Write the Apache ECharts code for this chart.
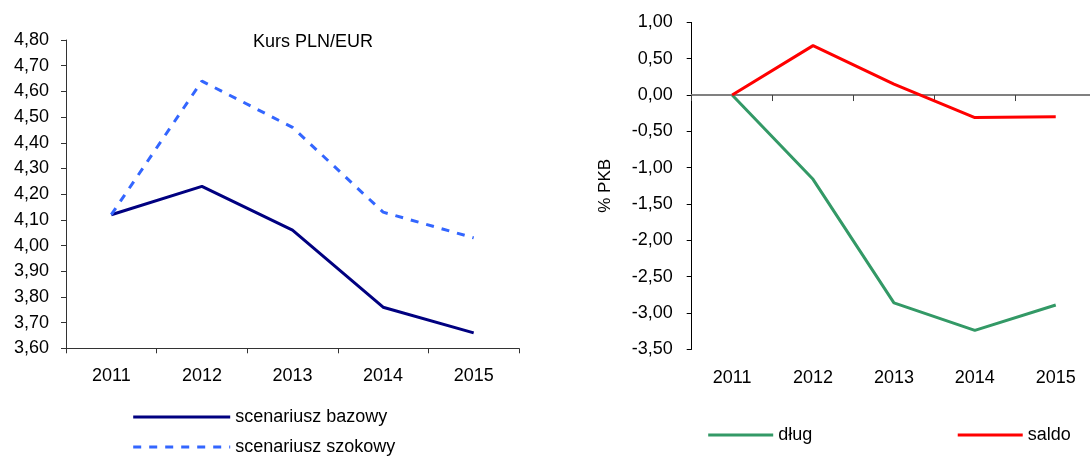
<!DOCTYPE html>
<html>
<head>
<meta charset="utf-8">
<script src="https://cdn.jsdelivr.net/npm/echarts@6/dist/echarts.min.js"></script>
<style>
html,body{margin:0;padding:0;background:#fff;}
#chart{width:1090px;height:456px;}
</style>
</head>
<body>
<div id="chart"></div>
<script>
// ---- data ----
const years = ['2011', '2012', '2013', '2014', '2015'];
const kursBazowy = [4.12, 4.23, 4.06, 3.76, 3.66];
const kursSzokowy = [4.12, 4.64, 4.46, 4.13, 4.03];
const dlug = [0, -1.16, -2.86, -3.24, -2.89];
const saldo = [0, 0.68, 0.15, -0.31, -0.30];
const leftTitle = 'Kurs PLN/EUR';
const rightAxisName = '% PKB';
const seriesNames = ['scenariusz bazowy', 'scenariusz szokowy', 'dług', 'saldo'];

const FONT = '"Liberation Sans", Arial, sans-serif';
const fmt = v => v.toFixed(2).replace('.', ',');

const chart = echarts.init(document.getElementById('chart'), null, {renderer: 'canvas'});

chart.setOption({
  animation: false,
  textStyle: {fontFamily: FONT, color: '#000'},
  title: {
    text: leftTitle,
    left: 253, top: 33,
    padding: 0,
    textStyle: {fontFamily: FONT, fontSize: 18, fontWeight: 'normal', color: '#000'}
  },
  grid: [
    {left: 66, top: 40, width: 453, height: 308.3, outerBoundsMode: 'none', containLabel: false},
    {left: 691.7, top: 22.4, width: 404.5, height: 326.9, outerBoundsMode: 'none', containLabel: false}
  ],
  xAxis: [
    {
      gridIndex: 0, type: 'category', data: years, boundaryGap: true,
      axisLine: {onZero: false, lineStyle: {color: '#333', width: 1}},
      axisTick: {show: true, length: 5, lineStyle: {color: '#333'}},
      axisLabel: {fontFamily: FONT, fontSize: 18, color: '#000', margin: 19},
      splitLine: {show: false}
    },
    {
      gridIndex: 1, type: 'category', data: years, boundaryGap: true, position: 'bottom',
      axisLine: {onZero: true, lineStyle: {color: '#808080', width: 2}},
      axisTick: {show: true, length: 6, lineStyle: {color: '#404040', width: 1}},
      axisLabel: {show: false},
      splitLine: {show: false}
    },
    {
      gridIndex: 1, type: 'category', data: years, boundaryGap: true, position: 'bottom',
      axisLine: {show: false, onZero: false},
      axisTick: {show: false},
      axisLabel: {fontFamily: FONT, fontSize: 18, color: '#000', margin: 20},
      splitLine: {show: false}
    }
  ],
  yAxis: [
    {
      gridIndex: 0, type: 'value', min: 3.6, max: 4.8, interval: 0.1,
      axisLine: {show: true, lineStyle: {color: '#333', width: 1}},
      axisTick: {show: true, length: 5, lineStyle: {color: '#333'}},
      axisLabel: {fontFamily: FONT, fontSize: 18, color: '#000', margin: 17, formatter: fmt},
      splitLine: {show: false}
    },
    {
      gridIndex: 1, type: 'value', min: -3.5, max: 1, interval: 0.5,
      name: rightAxisName, nameLocation: 'middle', nameGap: 78, nameRotate: 90,
      nameTextStyle: {fontFamily: FONT, fontSize: 17, color: '#000'},
      axisLine: {show: true, lineStyle: {color: '#000', width: 1}},
      axisTick: {show: true, length: 5, lineStyle: {color: '#000'}},
      axisLabel: {fontFamily: FONT, fontSize: 18, color: '#000', margin: 19, formatter: fmt},
      splitLine: {show: false}
    }
  ],
  legend: [
    {
      data: [seriesNames[0], seriesNames[1]],
      orient: 'vertical', left: 131.7, top: 408, padding: 0,
      itemWidth: 97, itemHeight: 14, itemGap: 12,
      textStyle: {fontFamily: FONT, fontSize: 18, color: '#000'},
      lineStyle: {width: 3},
      itemStyle: {opacity: 0}
    },
    {
      data: [seriesNames[2], seriesNames[3]],
      orient: 'horizontal', left: 706.7, top: 426, padding: 0,
      itemWidth: 65, itemHeight: 14, itemGap: 144,
      textStyle: {fontFamily: FONT, fontSize: 18, color: '#000'},
      lineStyle: {width: 3},
      itemStyle: {opacity: 0}
    }
  ],
  series: [
    {
      name: seriesNames[0], type: 'line', xAxisIndex: 0, yAxisIndex: 0, data: kursBazowy,
      symbol: 'none', showSymbol: false, color: '#000080',
      lineStyle: {color: '#000080', width: 3}
    },
    {
      name: seriesNames[1], type: 'line', xAxisIndex: 0, yAxisIndex: 0, data: kursSzokowy,
      symbol: 'none', showSymbol: false, color: '#3366FF',
      lineStyle: {color: '#3366FF', width: 3, type: [8, 8]}
    },
    {
      name: seriesNames[2], type: 'line', xAxisIndex: 2, yAxisIndex: 1, data: dlug,
      symbol: 'none', showSymbol: false, color: '#339966',
      lineStyle: {color: '#339966', width: 3}
    },
    {
      name: seriesNames[3], type: 'line', xAxisIndex: 2, yAxisIndex: 1, data: saldo,
      symbol: 'none', showSymbol: false, color: '#FF0000',
      lineStyle: {color: '#FF0000', width: 3}
    }
  ]
});
</script>
</body>
</html>
